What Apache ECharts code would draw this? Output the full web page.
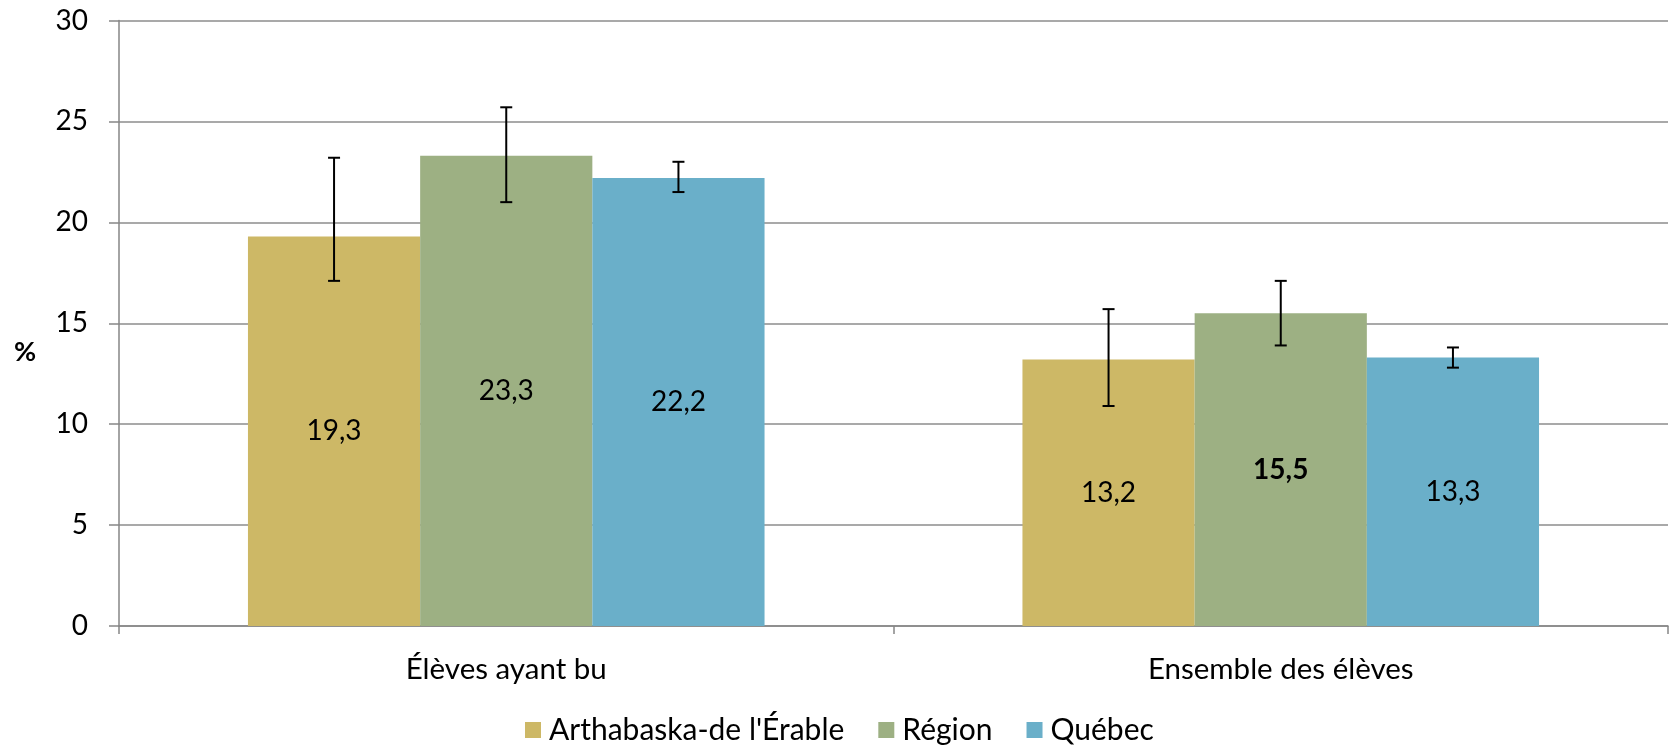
<!DOCTYPE html>
<html>
<head>
<meta charset="utf-8">
<script src="https://cdn.jsdelivr.net/npm/echarts@6/dist/echarts.min.js"></script>
<style>
html,body{margin:0;padding:0;background:#fff;}
#c{width:1673px;height:745px;}
</style>
</head>
<body>
<div id="c"></div>
<script>
const categories = ['Élèves ayant bu', 'Ensemble des élèves'];
const seriesNames = ["Arthabaska-de l'Érable", 'Région', 'Québec'];
const arthabaska = [19.3, 13.2];
const region = [23.3, 15.5];
const quebec = [22.2, 13.3];
const arthabaskaLow = [17.1, 10.9];
const arthabaskaHigh = [23.2, 15.7];
const regionLow = [21.0, 13.9];
const regionHigh = [25.7, 17.1];
const quebecLow = [21.5, 12.8];
const quebecHigh = [23.0, 13.8];
const boldLabels = [[false, false], [false, true], [false, false]];
const yTicks = [0, 5, 10, 15, 20, 25, 30];

const colors = ['#CDB866', '#9DB083', '#6AAFC9'];
const FONT = 'Lato';
const GAP = 0.333;
const values = [arthabaska, region, quebec];
const lows = [arthabaskaLow, regionLow, quebecLow];
const highs = [arthabaskaHigh, regionHigh, quebecHigh];

const chart = echarts.init(document.getElementById('c'));

const barSeries = values.map((vals, i) => ({
  name: seriesNames[i],
  type: 'bar',
  barGap: '0%',
  barCategoryGap: (GAP * 100) + '%',
  itemStyle: { color: colors[i] },
  label: {
    show: true,
    position: 'inside',
    color: '#000',
    fontFamily: FONT,
    fontSize: 28,
    formatter: p => p.value.toFixed(1).replace('.', ',')
  },
  data: vals.map((v, j) => ({
    value: v,
    label: boldLabels[i][j] ? { fontWeight: 'bold' } : {}
  })),
  z: 2
}));

const errSeries = values.map((vals, i) => ({
  type: 'custom',
  name: 'err' + i,
  z: 5,
  renderItem: (params, api) => {
    const cat = api.value(0);
    const band = api.size([1, 0])[0];
    const bw = band * (1 - GAP) / 3;
    const cx = api.coord([cat, 0])[0] + (i - 1) * bw;
    const yl = api.coord([cat, api.value(1)])[1];
    const yh = api.coord([cat, api.value(2)])[1];
    const hw = 6;
    const st = { stroke: '#000', lineWidth: 2 };
    return {
      type: 'group',
      children: [
        { type: 'line', shape: { x1: cx, y1: yl, x2: cx, y2: yh }, style: st },
        { type: 'line', shape: { x1: cx - hw, y1: yl, x2: cx + hw, y2: yl }, style: st },
        { type: 'line', shape: { x1: cx - hw, y1: yh, x2: cx + hw, y2: yh }, style: st }
      ]
    };
  },
  data: vals.map((v, j) => [j, lows[i][j], highs[i][j]])
}));

chart.setOption({
  animation: false,
  grid: { left: 119, right: 5, top: 20.5, bottom: 119 },
  legend: {
    data: seriesNames,
    left: 520,
    top: 710,
    icon: 'rect',
    itemWidth: 16,
    itemHeight: 16,
    itemGap: 34,
    textStyle: { fontFamily: FONT, fontSize: 30, color: '#000', padding: [0, 0, 0, 3] }
  },
  xAxis: {
    type: 'category',
    data: categories,
    axisLine: { lineStyle: { color: '#868686', width: 1.5 } },
    axisTick: { show: true, length: 8, lineStyle: { color: '#868686', width: 1.5 } },
    axisLabel: { fontFamily: FONT, fontSize: 29.5, color: '#000', margin: 28 }
  },
  yAxis: {
    type: 'value',
    min: yTicks[0],
    max: yTicks[yTicks.length - 1],
    interval: 5,
    axisLine: { show: true, lineStyle: { color: '#868686', width: 1.5 } },
    axisTick: { show: true, length: 10, lineStyle: { color: '#868686', width: 1.5 } },
    axisLabel: { fontFamily: FONT, fontSize: 28, color: '#000', margin: 31 },
    splitLine: { lineStyle: { color: '#8c8c8c', width: 1.5 } }
  },
  graphic: [{
    type: 'text',
    left: 14,
    top: 339,
    style: { text: '%', fontFamily: FONT, fontSize: 27, fontWeight: 'bold', fill: '#000' }
  }],
  series: [...barSeries, ...errSeries]
});
</script>
</body>
</html>
